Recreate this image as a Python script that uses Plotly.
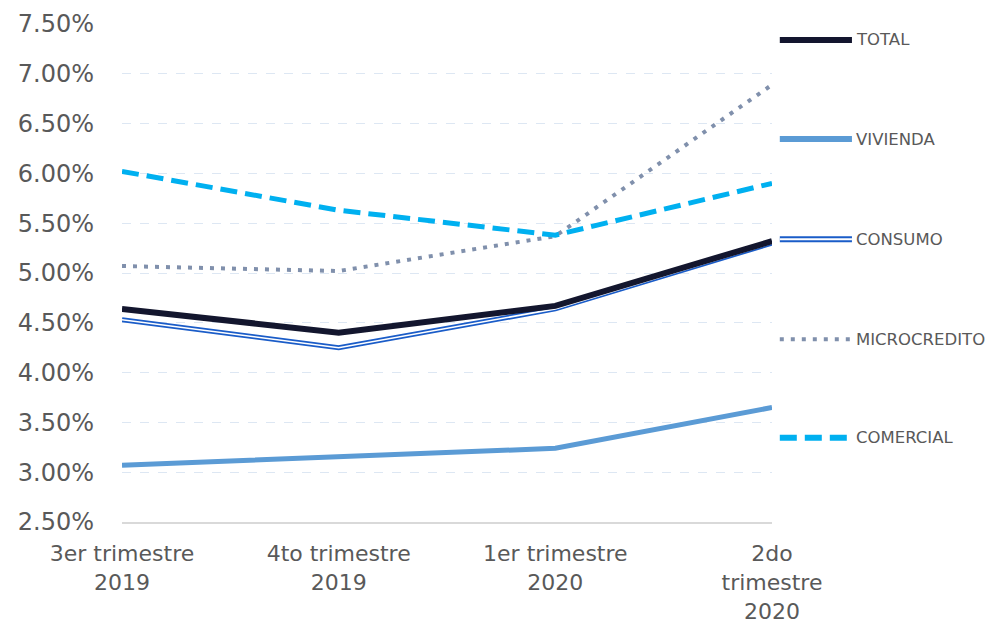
import plotly.graph_objects as go

categories = ["3er trimestre<br>2019", "4to trimestre<br>2019", "1er trimestre<br>2020", "2do<br>trimestre<br>2020"]
total = [4.64, 4.40, 4.67, 5.32]
vivienda = [3.07, 3.16, 3.24, 3.65]
consumo = [4.53, 4.25, 4.64, 5.30]
microcredito = [5.07, 5.02, 5.37, 6.89]
comercial = [6.02, 5.63, 5.38, 5.90]
y_ticks = [2.5, 3.0, 3.5, 4.0, 4.5, 5.0, 5.5, 6.0, 6.5, 7.0, 7.5]

C_TOTAL = "#13162e"
C_VIV = "#5b9bd5"
C_CONS = "#1a5cc8"
C_MICRO = "#8090ac"
C_COM = "#00b0f0"
FONT = "DejaVu Sans"
TXT = "#595959"

fig = go.Figure()
x = list(range(len(categories)))
fig.add_trace(go.Scatter(x=x, y=vivienda, mode="lines", line=dict(color=C_VIV, width=5), showlegend=False))
fig.add_trace(go.Scatter(x=x, y=consumo, mode="lines", line=dict(color=C_CONS, width=5), showlegend=False))
fig.add_trace(go.Scatter(x=x, y=consumo, mode="lines", line=dict(color="white", width=1.6), showlegend=False))
fig.add_trace(go.Scatter(x=x, y=microcredito, mode="lines", line=dict(color=C_MICRO, width=4, dash="4px,7px"), showlegend=False))
fig.add_trace(go.Scatter(x=x, y=comercial, mode="lines", line=dict(color=C_COM, width=5, dash="17px,8px"), showlegend=False))
fig.add_trace(go.Scatter(x=x, y=total, mode="lines", line=dict(color=C_TOTAL, width=6), showlegend=False))

# custom legend (paper coordinates)
legend_items = [
    ("TOTAL", 0.968, [dict(color=C_TOTAL, width=6)]),
    ("VIVIENDA", 0.769, [dict(color=C_VIV, width=6)]),
    ("CONSUMO", 0.568, [dict(color=C_CONS, width=6), dict(color="white", width=2)]),
    ("MICROCREDITO", 0.367, [dict(color=C_MICRO, width=4, dash="4px,7px")]),
    ("COMERCIAL", 0.169, [dict(color=C_COM, width=6, dash="17px,8px")]),
]
x0p, x1p, xt = 1.012, 1.123, 1.126
for name, yp, lines in legend_items:
    for ln in lines:
        fig.add_shape(type="line", xref="paper", yref="paper", x0=x0p, x1=x1p, y0=yp, y1=yp, line=ln)
    fig.add_annotation(xref="paper", yref="paper", x=xt, y=yp, text=name, showarrow=False,
                       xanchor="left", yanchor="middle", font=dict(family=FONT, size=16.5, color=TXT))

fig.update_layout(
    width=983, height=615,
    margin=dict(l=114, r=219, t=16, b=101),
    paper_bgcolor="white", plot_bgcolor="white",
    font=dict(family=FONT, color=TXT),
)
fig.update_xaxes(
    tickmode="array", tickvals=x, ticktext=categories, range=[0, 3], automargin=False,
    showgrid=False, zeroline=False, showline=True, linecolor="#d9d9d9", linewidth=2,
    tickfont=dict(family=FONT, size=22, color=TXT), ticks="", ticklabelstandoff=11,
)
fig.update_yaxes(
    range=[2.5, 7.5], tickvals=y_ticks, ticktext=[f"{v:.2f}%" for v in y_ticks], automargin=False,
    showgrid=True, gridcolor="#dde7f3", griddash="dash", gridwidth=1, zeroline=False,
    showline=False, ticks="", ticklabelstandoff=27,
    tickfont=dict(family=FONT, size=24, color=TXT),
)
fig.write_html("out.html")
